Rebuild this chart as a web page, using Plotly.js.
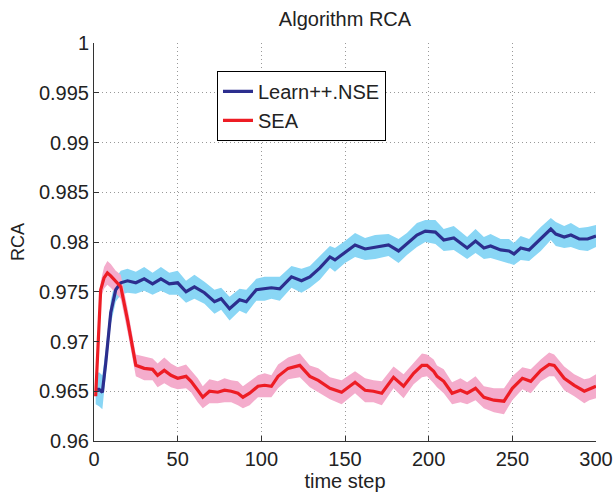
<!DOCTYPE html>
<html>
<head>
<meta charset="utf-8">
<script src="https://cdn.plot.ly/plotly-3.0.1.min.js"></script>
<style>html,body{margin:0;padding:0;background:#fff;}#chart{width:615px;height:496px;}</style>
</head>
<body>
<div id="chart"></div>
<script>
// Learn++.NSE
const nseT = [1,3,5,7,10,13,16,20,25,30,35,40,45,50,55,60,66,72,76,81,87,91,97,102,106,111,118,124,129,135,141,144,150,156,162,168,176,182,187,193,198,204,209,215,223,228,233,237,243,248,251,255,260,267,273,276,281,285,290,295,300];
const nseV = [0.9652,0.9652,0.9649,0.9678,0.9729,0.9752,0.9759,0.9761,0.9759,0.9763,0.9758,0.9763,0.9758,0.9759,0.9750,0.9755,0.9749,0.9740,0.9743,0.9733,0.9742,0.9740,0.9752,0.9753,0.9754,0.9753,0.9765,0.9761,0.9765,0.9774,0.9785,0.9782,0.9790,0.9797,0.9793,0.9795,0.9797,0.9791,0.9798,0.9807,0.9811,0.9810,0.9802,0.9804,0.9794,0.9801,0.9794,0.9796,0.9792,0.9791,0.9788,0.9794,0.9792,0.9803,0.9813,0.9808,0.9805,0.9807,0.9803,0.9803,0.9806];
const nseHalf = [0.0015,0.0017,0.0017,0.0014,0.0012,0.0012,0.0012,0.0012,0.0011,0.0012,0.0011,0.0012,0.0011,0.0012,0.0011,0.0012,0.0011,0.0012,0.0011,0.0012,0.0011,0.0012,0.0011,0.0012,0.0011,0.0012,0.0011,0.0012,0.0011,0.0012,0.0011,0.0012,0.0011,0.0012,0.0011,0.0012,0.0011,0.0012,0.0011,0.0012,0.0011,0.0012,0.0011,0.0012,0.0011,0.0012,0.0011,0.0012,0.0011,0.0012,0.0011,0.0012,0.0011,0.0012,0.0011,0.0012,0.0011,0.0012,0.0011,0.0012,0.0011];
// SEA
const seaT = [1,4,6,8,10,13,16,20,25,30,35,38,42,46,50,55,58,62,65,69,74,78,82,86,89,93,98,102,106,110,116,123,129,134,141,148,156,162,167,172,179,185,191,196,199,203,205,209,214,219,223,228,233,239,245,250,256,261,267,272,275,281,287,293,296,300];
const seaV = [0.9645,0.9752,0.9764,0.9769,0.9766,0.9760,0.9755,0.9722,0.9676,0.9673,0.9672,0.9666,0.9671,0.9666,0.9663,0.9665,0.9660,0.9651,0.9644,0.9650,0.9649,0.9651,0.9650,0.9648,0.9644,0.9648,0.9655,0.9656,0.9655,0.9665,0.9673,0.9676,0.9665,0.9661,0.9653,0.9649,0.9659,0.9651,0.9650,0.9648,0.9664,0.9655,0.9668,0.9676,0.9676,0.9670,0.9665,0.9660,0.9648,0.9651,0.9648,0.9653,0.9644,0.9641,0.9640,0.9653,0.9663,0.9660,0.9671,0.9677,0.9676,0.9663,0.9656,0.9650,0.9652,0.9655];
const seaHalf = [0.0004,0.0008,0.0011,0.0012,0.0012,0.0011,0.0012,0.0012,0.0011,0.0012,0.0011,0.0012,0.0013,0.0012,0.0011,0.0012,0.0011,0.0012,0.0011,0.0012,0.0011,0.0012,0.0011,0.0012,0.0011,0.0012,0.0011,0.0012,0.0011,0.0012,0.0011,0.0012,0.0011,0.0012,0.0011,0.0012,0.0011,0.0012,0.0011,0.0012,0.0011,0.0012,0.0011,0.0012,0.0011,0.0012,0.0011,0.0012,0.0011,0.0012,0.0011,0.0012,0.0011,0.0012,0.0013,0.0012,0.0011,0.0012,0.0011,0.0012,0.0011,0.0012,0.0011,0.0012,0.0011,0.0012];

const xTicks = [0,50,100,150,200,250,300];
const yTicks = [0.96,0.965,0.97,0.975,0.98,0.985,0.99,0.995,1];
const yTickText = ['0.96','0.965','0.97','0.975','0.98','0.985','0.99','0.995','1'];

const upper = (v,h) => v.map((y,i) => y + h[i]);
const lower = (v,h) => v.map((y,i) => y - h[i]);

const clear = {width:0, color:'rgba(0,0,0,0)'};
const traces = [
  {x: nseT, y: upper(nseV,nseHalf), mode:'lines', line:clear, showlegend:false, hoverinfo:'skip'},
  {x: nseT, y: lower(nseV,nseHalf), mode:'lines', line:clear, fill:'tonexty', fillcolor:'rgb(137,214,245)', showlegend:false, hoverinfo:'skip'},
  {x: seaT, y: upper(seaV,seaHalf), mode:'lines', line:clear, showlegend:false, hoverinfo:'skip'},
  {x: seaT, y: lower(seaV,seaHalf), mode:'lines', line:clear, fill:'tonexty', fillcolor:'rgb(244,172,204)', showlegend:false, hoverinfo:'skip'},
  {x: nseT, y: nseV, mode:'lines', name:'Learn++.NSE', line:{color:'rgb(44,46,142)', width:3.2}},
  {x: seaT, y: seaV, mode:'lines', name:'SEA', line:{color:'rgb(237,28,36)', width:3.2}}
];

const layout = {
  width:615, height:496,
  margin:{l:94, r:19, t:43, b:55},
  paper_bgcolor:'#fff', plot_bgcolor:'#fff',
  font:{family:'"Liberation Sans", Arial, Helvetica, sans-serif', color:'#222', size:20},
  title:{text:'Algorithm RCA', font:{size:20, color:'#222'}, xref:'paper', x:0.5, xanchor:'center', yref:'container', y:0.962, yanchor:'middle'},
  showlegend:true,
  legend:{x:0.245, y:0.93, xanchor:'left', yanchor:'top', traceorder:'normal', bgcolor:'#fff', bordercolor:'#000', borderwidth:1, font:{size:20, color:'#222'}, tracegroupgap:0, itemwidth:30},
  xaxis:{range:[0,300], tickvals:xTicks, showgrid:true, gridcolor:'#999', griddash:'1px,3px', gridwidth:1,
         showline:true, linecolor:'#333', linewidth:1, ticks:'inside', ticklen:5, tickcolor:'#333', zeroline:false,
         title:{text:'time step', standoff:4, font:{size:20}}, automargin:false, tickfont:{size:20}},
  yaxis:{range:[0.96,1], tickvals:yTicks, ticktext:yTickText, showgrid:true, gridcolor:'#999', griddash:'1px,3px', gridwidth:1,
         showline:true, linecolor:'#333', linewidth:1, ticks:'inside', ticklen:5, tickcolor:'#333', zeroline:false,
         title:{text:'RCA', standoff:9, font:{size:18}}, automargin:false, tickfont:{size:20}}
};

Plotly.newPlot('chart', traces, layout, {displayModeBar:false, staticPlot:true});
</script>
</body>
</html>
